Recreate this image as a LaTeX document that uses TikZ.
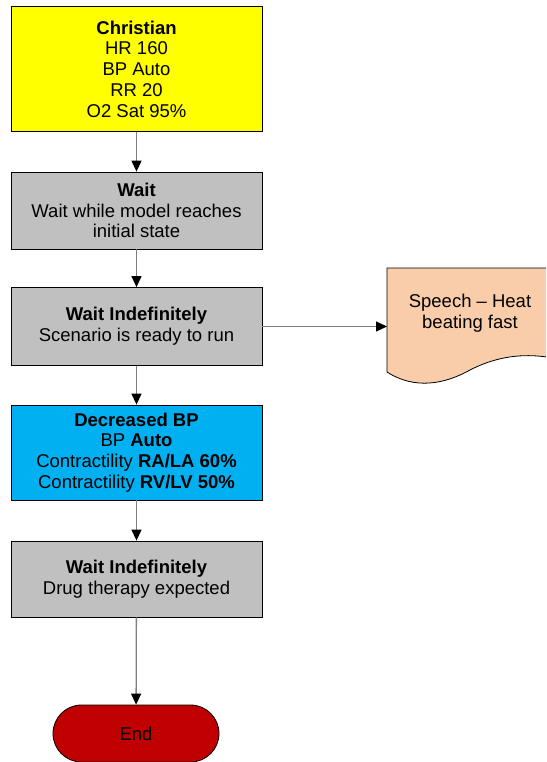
\documentclass[tikz,border=0pt]{standalone}
\usepackage{fontspec}
\setmainfont{Liberation Sans}
\usetikzlibrary{arrows.meta}
\definecolor{boxyellow}{HTML}{FFFF00}
\definecolor{boxgray}{HTML}{C0C0C0}
\definecolor{boxblue}{HTML}{00B0F0}
\definecolor{docpeach}{HTML}{F9CDAA}
\definecolor{endred}{HTML}{C00000}
\definecolor{linegray}{HTML}{808080}
\tikzset{
  stepbox/.style={draw=black, line width=0.8pt, minimum width=251pt, align=center,
    inner sep=0pt, font=\fontsize{18.5}{20.7}\selectfont},
  flow/.style={draw=linegray, line width=1.3pt, -{Triangle[length=11pt,width=10pt,fill=black,color=black]}}
}
\begin{document}
\begin{tikzpicture}[x=1pt,y=-1pt]
\useasboundingbox (0,0) rectangle (546,762);
\node[stepbox, fill=boxyellow, minimum height=125pt] (christian) at (136.5,69)
  {\textbf{Christian}\\HR 160\\BP Auto\\RR 20\\O2 Sat 95\%};
\node[stepbox, fill=boxgray, minimum height=77pt] (wait) at (136.5,210.5)
  {\textbf{Wait}\\Wait while model reaches\\initial state};
\node[stepbox, fill=boxgray, minimum height=78pt] (waitind) at (136.5,326.5)
  {\textbf{Wait Indefinitely}\\Scenario is ready to run};
\node[stepbox, fill=boxblue, minimum height=95pt] (decbp) at (136.5,452.5)
  {\textbf{Decreased BP}\\BP \textbf{Auto}\\Contractility \textbf{RA/LA 60\%}\\Contractility \textbf{RV/LV 50\%}};
\node[stepbox, fill=boxgray, minimum height=76pt] (waitdrug) at (136.5,579)
  {\textbf{Wait Indefinitely}\\Drug therapy expected};
\node[stepbox, fill=endred, minimum width=166pt, minimum height=57pt, rounded corners=28.5pt] (end) at (136,733.5) {End};
% speech document
\begin{scope}
\clip (0,0) rectangle (546,762);
\draw[line width=0.8pt, fill=docpeach] (387,268) -- (575,268) -- (575,364)
  .. controls (540,352) and (505,352) .. (470,370)
  .. controls (445,384) and (415,390) .. (387,372) -- cycle;
\end{scope}
\node[align=center, inner sep=0pt, font=\fontsize{18.5}{20.7}\selectfont] (speech) at (470,313.5) {Speech -- Heat\\beating fast};
\coordinate (speechin) at (387,326.5);
\draw[flow] (christian) -- (wait);
\draw[flow] (wait) -- (waitind);
\draw[flow] (waitind) -- (decbp);
\draw[flow] (decbp) -- (waitdrug);
\draw[flow] (waitdrug) -- (end);
\draw[flow] (waitind.east) -- (speechin);
\end{tikzpicture}
\end{document}
